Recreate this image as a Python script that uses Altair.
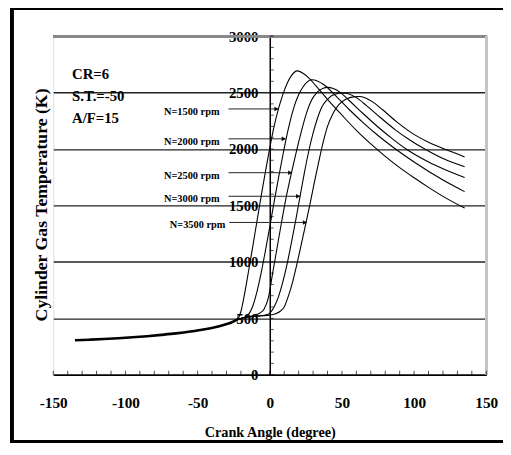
import altair as alt
import pandas as pd

# ---------------- data ----------------
compression_angle = [-135, -125, -115, -105, -95, -85, -75, -65, -55, -45, -38, -32, -27, -22]
compression_temp = [305, 310, 316, 323, 331, 341, 353, 366, 382, 402, 420, 440, 460, 492]

angle_1500 = [-22, -20, -18, -16, -14, -12, -9, -6, -3, 0, 3, 6, 9, 12, 15, 19, 23, 27, 32, 40, 50, 60, 70, 80, 90, 100, 110, 120, 135]
temp_1500 = [492, 560, 680, 820, 970, 1120, 1350, 1580, 1800, 2010, 2200, 2355, 2480, 2580, 2650, 2692, 2672, 2630, 2560, 2440, 2300, 2165, 2045, 1935, 1835, 1745, 1660, 1580, 1476]

angle_2000 = [-22, -18, -15, -12, -9, -6, -3, 0, 3, 6, 9, 11, 14, 17, 20, 23, 26, 29, 33, 38, 45, 55, 65, 75, 85, 100, 120, 135]
temp_2000 = [492, 505, 530, 600, 730, 900, 1100, 1310, 1530, 1740, 1940, 2070, 2240, 2380, 2480, 2550, 2595, 2613, 2603, 2565, 2480, 2350, 2230, 2120, 2020, 1885, 1725, 1622]

angle_2500 = [-22, -18, -14, -10, -7, -4, -1, 2, 5, 8, 11, 14, 17, 20, 23, 26, 29, 33, 37, 40, 44, 49, 55, 65, 75, 85, 95, 110, 120, 135]
temp_2500 = [492, 505, 515, 528, 545, 580, 680, 900, 1120, 1340, 1550, 1730, 1900, 2060, 2210, 2340, 2435, 2505, 2538, 2546, 2536, 2500, 2430, 2310, 2195, 2090, 1995, 1885, 1825, 1747]

angle_3000 = [-22, -18, -12, -6, -3, 0, 3, 6, 9, 12, 15, 18, 21, 24, 27, 30, 33, 36, 40, 45, 51, 55, 60, 67, 77, 87, 97, 108, 120, 135]
temp_3000 = [492, 505, 515, 522, 528, 545, 600, 690, 820, 980, 1170, 1370, 1581, 1790, 1980, 2140, 2270, 2370, 2440, 2485, 2497, 2488, 2455, 2385, 2275, 2170, 2080, 1995, 1915, 1843]

angle_3500 = [-22, -18, -12, -6, 0, 4, 7, 10, 13, 16, 19, 22, 25, 28, 31, 34, 37, 40, 44, 48, 53, 58, 62, 66, 71, 78, 88, 98, 110, 122, 135]
temp_3500 = [492, 505, 515, 522, 528, 540, 560, 600, 700, 830, 990, 1165, 1340, 1520, 1710, 1890, 2060, 2200, 2320, 2395, 2443, 2462, 2465, 2455, 2420, 2350, 2240, 2145, 2060, 1995, 1930]

speed_labels = ["N=1500 rpm", "N=2000 rpm", "N=2500 rpm", "N=3000 rpm", "N=3500 rpm"]
arrow_temp = [2355, 2090, 1790, 1581, 1349]
arrow_tip_angle = [6, 11, 15.5, 21, 25.7]
arrow_start_angle = [-28.6, -28.6, -28.6, -28.6, -28.0]
label_end_angle = [-34.8, -34.8, -34.8, -34.8, -30.8]

info_lines = ["CR=6", "S.T.=-50", "A/F=15"]
info_temp = [2660, 2468, 2276]
info_angle = -137

x_label_values = [-150, -100, -50, 0, 50, 100, 150]
y_label_values = [0, 500, 1000, 1500, 2000, 2500, 3000]
x_minor_ticks = list(range(-150, 151, 10))
y_minor_ticks = list(range(0, 3001, 100))

# ---------------- tables ----------------
rows = []
for name, a, t in [("1500", angle_1500, temp_1500), ("2000", angle_2000, temp_2000),
                   ("2500", angle_2500, temp_2500), ("3000", angle_3000, temp_3000),
                   ("3500", angle_3500, temp_3500)]:
    for ai, ti in zip(a, t):
        rows.append({"speed": name, "angle": ai, "temp": ti})
curves = pd.DataFrame(rows)
comp = pd.DataFrame({"angle": compression_angle, "temp": compression_temp})
arrows = pd.DataFrame({"label": speed_labels, "temp": arrow_temp, "tip": arrow_tip_angle,
                       "start": arrow_start_angle, "lend": label_end_angle})
info = pd.DataFrame({"text": info_lines, "temp": info_temp, "angle": [info_angle] * 3})
xt = pd.DataFrame({"v": x_minor_ticks})
yt = pd.DataFrame({"v": y_minor_ticks})

FONT = "Liberation Serif"
W, H = 440, 344

xs = alt.Scale(domain=[-150, 150], nice=False, zero=False)
ys = alt.Scale(domain=[0, 3000], nice=False)

x_axis = alt.Axis(values=x_label_values, ticks=False, tickSize=0, grid=False,
                  labelExpr="'' + datum.value",
                  domainColor="black", domainWidth=1.5, labelFont=FONT, labelFontSize=15.5,
                  labelFontWeight="bold", labelColor="black", labelPadding=21,
                  labelFlush=False, labelOverlap=False,
                  title="Crank Angle (degree)", titleFont=FONT, titleFontSize=14.5,
                  titleFontWeight="bold", titleColor="black", titleBaseline="middle",
                  titleY=59)
y_axis = alt.Axis(values=y_label_values, ticks=False, tickSize=0, grid=True,
                  labelExpr="'' + datum.value",
                  gridColor="#222222", gridWidth=1.4, offset=-220,
                  domainColor="black", domainWidth=1.5, labelFont=FONT, labelFontSize=15,
                  labelFontWeight="bold", labelColor="black", labelPadding=12,
                  labelFlush=False, labelOverlap=False,
                  title="Cylinder Gas Temperature (K)", titleFont=FONT, titleFontSize=18,
                  titleFontWeight="bold", titleColor="black", titleBaseline="middle",
                  titleAngle=270, titleX=-232, titleY=171)

base_x = alt.X("angle:Q", scale=xs, axis=x_axis)
base_y = alt.Y("temp:Q", scale=ys, axis=y_axis)

frame = alt.Chart(comp).mark_rect(fill=None, stroke="black", strokeWidth=2.5).encode(
    x=alt.value(-42), x2=alt.value(470), y=alt.value(-28), y2=alt.value(412))

top_line = alt.Chart(comp).mark_rule(color="#888888", strokeWidth=2).encode(
    x=alt.datum(-150, scale=xs), x2=alt.datum(150), y=alt.datum(3000, scale=ys))
right_line = alt.Chart(comp).mark_rule(color="#c4c4c4", strokeWidth=2).encode(
    x=alt.datum(150, scale=xs), y=alt.datum(0, scale=ys), y2=alt.datum(3000))

comp_line = alt.Chart(comp).mark_line(color="black", strokeWidth=2.6, interpolate="monotone").encode(
    x=base_x, y=base_y)
lines = alt.Chart(curves).mark_line(color="black", strokeWidth=1.1, interpolate="monotone").encode(
    x=alt.X("angle:Q", scale=xs), y=alt.Y("temp:Q", scale=ys), detail="speed:N")

xticks = alt.Chart(xt).mark_tick(orient="vertical", size=4, thickness=1, color="black", yOffset=-2).encode(
    x=alt.X("v:Q", scale=xs), y=alt.datum(0, scale=ys))
yticks = alt.Chart(yt).mark_tick(orient="horizontal", size=4, thickness=1, color="black", xOffset=2).encode(
    x=alt.datum(0, scale=xs), y=alt.Y("v:Q", scale=ys))

arrow_lines = alt.Chart(arrows).mark_rule(color="#222222", strokeWidth=1).encode(
    x=alt.X("start:Q", scale=xs), x2="tip:Q", y=alt.Y("temp:Q", scale=ys))
arrow_heads = alt.Chart(arrows).mark_point(shape="triangle-right", filled=True, color="black",
                                           size=22, opacity=1, xOffset=-2).encode(
    x=alt.X("tip:Q", scale=xs), y=alt.Y("temp:Q", scale=ys))
arrow_text = alt.Chart(arrows).mark_text(font=FONT, fontSize=10.5, fontWeight="bold", align="right",
                                         baseline="middle", dy=3, color="black").encode(
    x=alt.X("lend:Q", scale=xs), y=alt.Y("temp:Q", scale=ys), text="label:N")
info_text = alt.Chart(info).mark_text(font=FONT, fontSize=15, fontWeight="bold", align="left",
                                      baseline="middle", color="black").encode(
    x=alt.X("angle:Q", scale=xs), y=alt.Y("temp:Q", scale=ys), text="text:N")

chart = alt.layer(
    comp_line, lines, top_line, right_line, xticks, yticks,
    arrow_lines, arrow_heads, arrow_text, info_text, frame
).properties(
    width=W, height=H,
    autosize=alt.AutoSizeParams(type="none"),
    padding={"left": 46, "top": 25, "right": 17, "bottom": 78},
).configure_view(stroke=None).configure(background="white")

chart.save("out.html", embed_options={"renderer": "svg", "actions": False})
